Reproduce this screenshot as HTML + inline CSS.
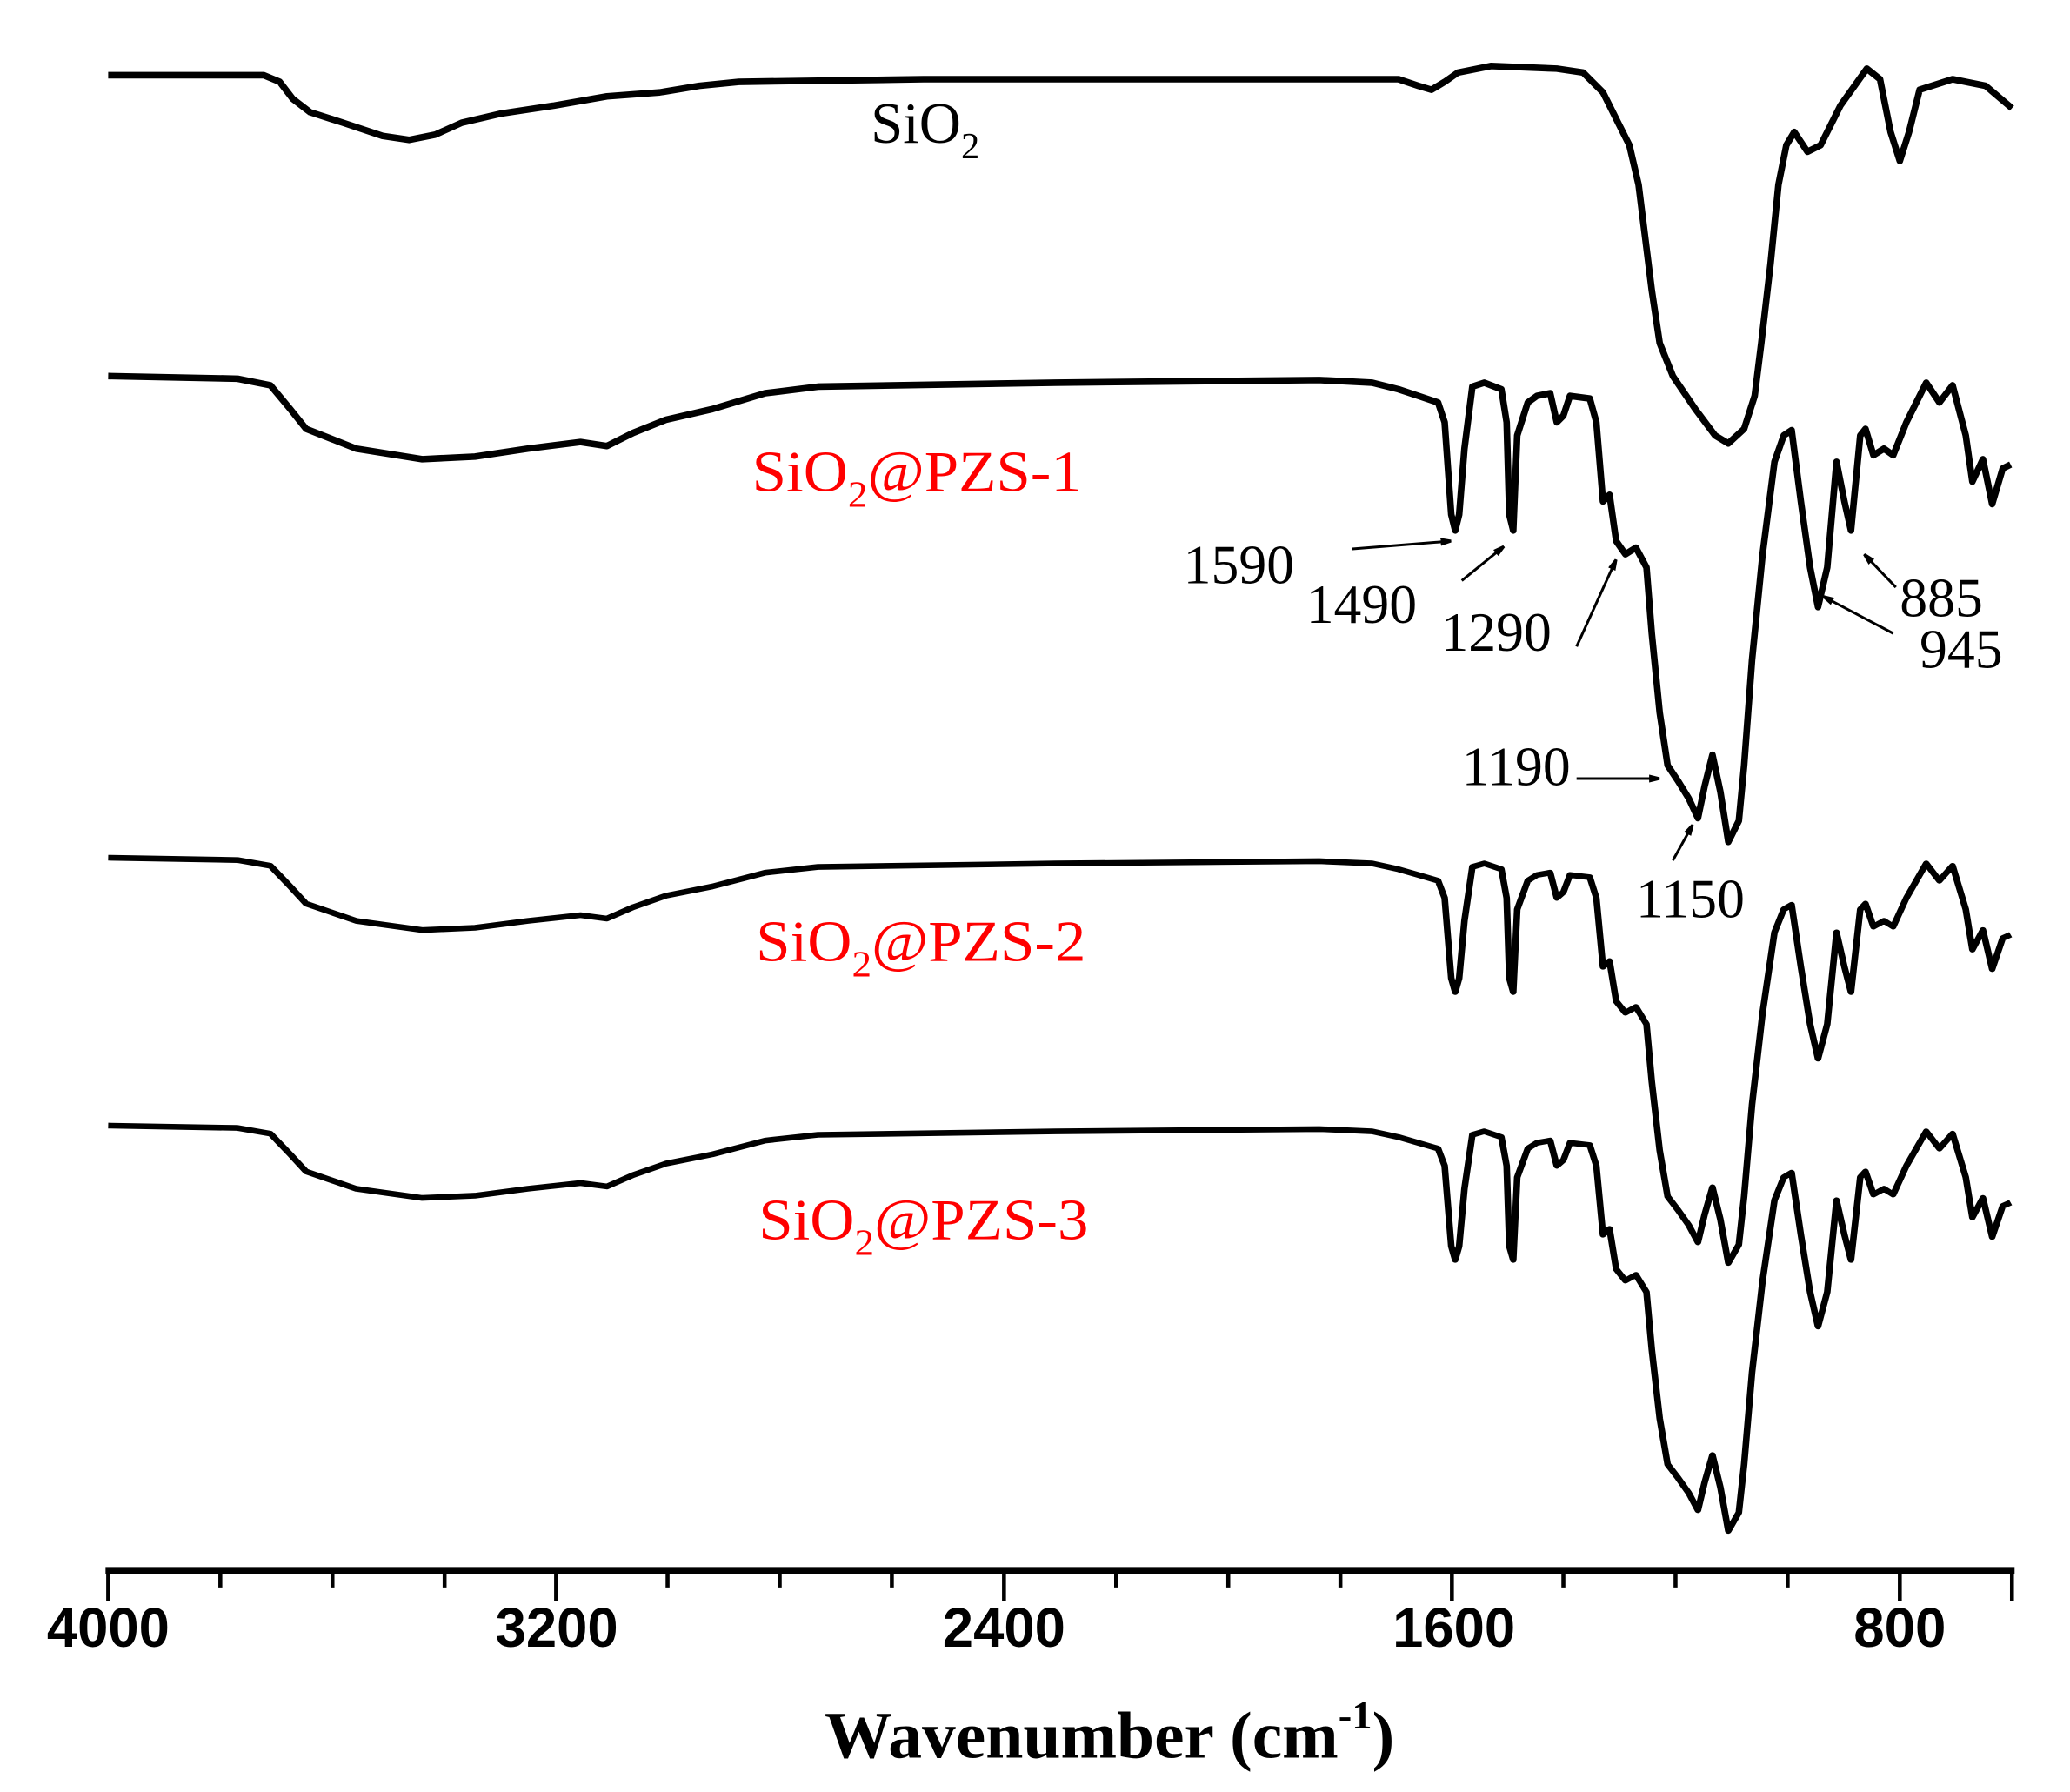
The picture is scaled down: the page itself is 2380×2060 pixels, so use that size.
<!DOCTYPE html>
<html><head><meta charset="utf-8"><style>
html,body{margin:0;padding:0;background:#fff;}
svg{display:block;}
.s{font-family:"Liberation Serif",serif;}
</style></head><body>
<svg width="2380" height="2060" viewBox="0 0 1569 1358" preserveAspectRatio="none" xmlns="http://www.w3.org/2000/svg">
<defs>
<marker id="ah" markerWidth="8" markerHeight="6" refX="8" refY="3" orient="auto" markerUnits="userSpaceOnUse">
<path d="M0,0 L12,3 L0,6 Z" fill="#000"/></marker>
<path id="pzs" d="M82,285 L180,287 L205,292 L220,310 L232,325 L270,340 L320,348 L360,346 L400,340 L440,335 L460,338 L480,328 L505,318 L540,310 L580,298 L620,293 L800,290 L1000,288 L1040,290 L1060,295 L1075,300 L1090,305 L1095,320 L1100,390 L1103,402 L1106,390 L1110,340 L1116,293 L1125,290 L1138,295 L1142,320 L1144,390 L1147,402 L1150,330 L1158,305 L1165,300 L1175,298 L1180,320 L1185,315 L1190,300 L1205,302 L1210,320 L1215,380 L1220,375 L1225,410 L1232,420 L1240,415 L1248,430 L1252,480 L1258,540 L1264,580 L1272,592 L1280,605 L1287,620 L1292,596 L1298,572 L1304,600 L1310,638 L1318,622 L1322,580 L1328,500 L1336,420 L1345,350 L1352,330 L1358,326 L1365,380 L1372,430 L1378,460 L1385,430 L1392,350 L1398,380 L1403,402 L1410,330 L1414,325 L1420,345 L1428,340 L1435,345 L1445,320 L1460,290 L1470,305 L1480,292 L1490,330 L1495,365 L1503,348 L1510,382 L1518,355 L1524,352"/>
</defs>
<g fill="none" stroke="#000" stroke-width="5" stroke-linejoin="round">
<path d="M82,57 L200,57 L212,62 L222,75 L235,85 L260,93 L290,103 L310,106 L330,102 L350,93 L380,86 L420,80 L460,73 L500,70 L530,65 L560,62 L700,60 L900,60 L1000,60 L1060,60 L1075,65 L1085,68 L1095,62 L1105,55 L1130,50 L1180,52 L1200,55 L1215,70 L1225,90 L1235,110 L1242,140 L1247,180 L1252,220 L1258,260 L1268,285 L1285,310 L1300,330 L1310,336 L1322,325 L1330,300 L1335,260 L1342,200 L1348,140 L1354,110 L1360,100 L1370,115 L1380,110 L1395,80 L1415,52 L1425,60 L1433,100 L1440,122 L1447,100 L1455,68 L1480,60 L1505,65 L1525,82"/>
<use href="#pzs"/>
<use href="#pzs" transform="translate(0,650) scale(1,0.87) translate(0,-285)"/>
<use href="#pzs" transform="translate(0,853) scale(1,0.87) translate(0,-285)"/>
</g>
<g stroke="#000">
<line x1="80" y1="1190" x2="1527" y2="1190" stroke-width="5"/>
<g stroke-width="3">
<line x1="82" y1="1190" x2="82" y2="1213"/><line x1="421.5" y1="1190" x2="421.5" y2="1213"/><line x1="761" y1="1190" x2="761" y2="1213"/><line x1="1100.5" y1="1190" x2="1100.5" y2="1213"/><line x1="1440" y1="1190" x2="1440" y2="1213"/>
<line x1="167" y1="1190" x2="167" y2="1203"/><line x1="252" y1="1190" x2="252" y2="1203"/><line x1="337" y1="1190" x2="337" y2="1203"/>
<line x1="506" y1="1190" x2="506" y2="1203"/><line x1="591" y1="1190" x2="591" y2="1203"/><line x1="676" y1="1190" x2="676" y2="1203"/>
<line x1="846" y1="1190" x2="846" y2="1203"/><line x1="931" y1="1190" x2="931" y2="1203"/><line x1="1016" y1="1190" x2="1016" y2="1203"/>
<line x1="1185" y1="1190" x2="1185" y2="1203"/><line x1="1270" y1="1190" x2="1270" y2="1203"/><line x1="1355" y1="1190" x2="1355" y2="1203"/>
<line x1="1525" y1="1190" x2="1525" y2="1213"/>
</g></g>
<g font-family="Liberation Sans, sans-serif" font-weight="bold" font-size="42" text-anchor="middle">
<text x="82" y="1248" textLength="93" lengthAdjust="spacingAndGlyphs">4000</text>
<text x="422" y="1248" textLength="93" lengthAdjust="spacingAndGlyphs">3200</text>
<text x="761" y="1248" textLength="93" lengthAdjust="spacingAndGlyphs">2400</text>
<text x="1102" y="1248" textLength="93" lengthAdjust="spacingAndGlyphs">1600</text>
<text x="1440" y="1248" textLength="70" lengthAdjust="spacingAndGlyphs">800</text>
</g>
<text class="s" x="625" y="1332" font-size="50" font-weight="bold" textLength="432" lengthAdjust="spacingAndGlyphs">Wavenumber (cm<tspan font-size="30" dy="-22">-1</tspan><tspan dy="22">)</tspan></text>
<g class="s" font-size="44">
<text x="660" y="108">SiO<tspan font-size="28" dy="12">2</tspan></text>
<text x="570" y="372" fill="#f00" textLength="250" lengthAdjust="spacingAndGlyphs">SiO<tspan font-size="28" dy="12">2</tspan><tspan dy="-12">@PZS-1</tspan></text>
<text x="573" y="728" fill="#f00" textLength="250" lengthAdjust="spacingAndGlyphs">SiO<tspan font-size="28" dy="12">2</tspan><tspan dy="-12">@PZS-2</tspan></text>
<text x="575" y="939" fill="#f00" textLength="250" lengthAdjust="spacingAndGlyphs">SiO<tspan font-size="28" dy="12">2</tspan><tspan dy="-12">@PZS-3</tspan></text>
</g>
<g class="s" font-size="42">
<text x="897" y="442">1590</text><text x="990" y="472">1490</text><text x="1092" y="493">1290</text>
<text x="1440" y="467">885</text><text x="1455" y="506">945</text>
<text x="1108" y="595">1190</text><text x="1240" y="695">1150</text>
</g>
<g stroke="#000" stroke-width="2" marker-end="url(#ah)">
<line x1="1025" y1="416" x2="1100" y2="410"/>
<line x1="1108" y1="440" x2="1140" y2="414"/>
<line x1="1195" y1="490" x2="1225" y2="424"/>
<line x1="1437" y1="445" x2="1413" y2="420"/>
<line x1="1435" y1="480" x2="1382" y2="452"/>
<line x1="1195" y1="590" x2="1258" y2="590"/>
<line x1="1268" y1="652" x2="1283" y2="625"/>
</g>
</svg>
</body></html>
